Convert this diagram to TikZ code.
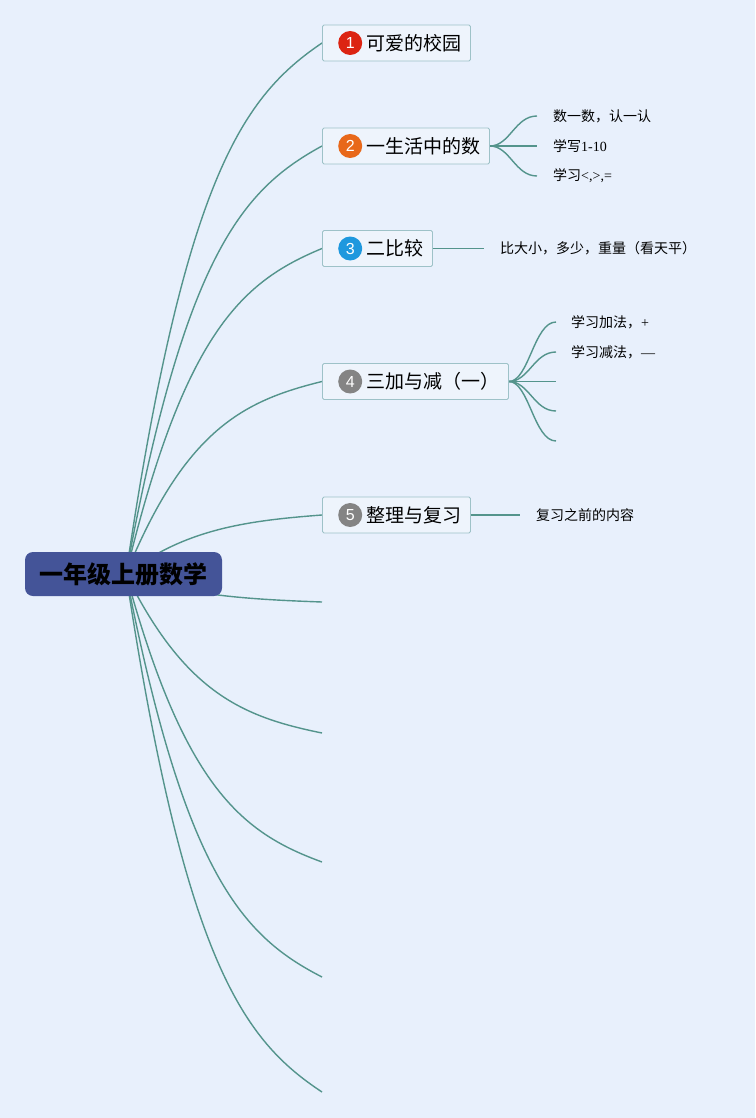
\documentclass[tikz,border=0pt]{standalone}
\usepackage{fontspec}
\setmainfont{Liberation Serif}
\newfontfamily\cjk{Noto Sans CJK SC}
\newfontfamily\numfont{Liberation Sans}
\usepackage{xcolor}
\usetikzlibrary{positioning,calc}

\pgfdeclarelayer{bg}
\pgfsetlayers{bg,main}

\definecolor{bgblue}{RGB}{232,240,252}
\definecolor{rootblue}{RGB}{68,84,152}
\definecolor{linegreen}{RGB}{84,148,140}
\definecolor{boxline}{RGB}{158,194,200}
\definecolor{boxfill}{RGB}{238,244,252}
\definecolor{badgered}{RGB}{220,36,18}
\definecolor{badgeorange}{RGB}{232,104,26}
\definecolor{badgeblue}{RGB}{30,152,222}
\definecolor{badgegray}{RGB}{132,132,132}

\tikzset{
  branch/.style={draw=linegreen, line width=1.4pt},
  rootbox/.style={fill=rootblue, rounded corners=8pt, minimum width=197pt,
    minimum height=44pt, inner sep=0pt, font=\cjk\bfseries\fontsize{24}{26}\selectfont},
  topic/.style={draw=boxline, fill=boxfill, line width=0.9pt, rounded corners=1.5pt,
    anchor=west, minimum height=36pt, inner xsep=9pt, inner ysep=0pt,
    font=\cjk\fontsize{19}{22}\selectfont},
  badge/.style={circle, fill=#1, text=white, inner sep=0pt, minimum size=24pt,
    font=\numfont\fontsize{16}{16}\selectfont},
  leaf/.style={anchor=west, inner sep=0pt, font=\cjk\fontsize{14}{16}\selectfont},
}

\begin{document}
\begin{tikzpicture}[x=1pt, y=-1pt]
% Background
\begin{pgfonlayer}{bg}
\fill[bgblue] (0,0) rectangle (755,1118);
\end{pgfonlayer}
\useasboundingbox (0,0) rectangle (755,1118);

% Central topic
\node[rootbox] (root) at (123.5,574) {一年级上册数学};
\coordinate (hub) at (126,574);

% Main topics
\node[topic] (t1) at (322,43) {\hspace*{35pt}可爱的校园};
\node[topic] (t2) at (322,146) {\hspace*{35pt}一生活中的数};
\node[topic] (t3) at (322,248.5) {\hspace*{35pt}二比较};
\node[topic] (t4) at (322,381.5) {\hspace*{35pt}三加与减（一）};
\node[topic] (t5) at (322,515) {\hspace*{35pt}整理与复习};

\node[badge=badgered, right=16pt of t1.west] (b1) {1};
\node[badge=badgeorange, right=16pt of t2.west] (b2) {2};
\node[badge=badgeblue, right=16pt of t3.west] (b3) {3};
\node[badge=badgegray, right=16pt of t4.west] (b4) {4};
\node[badge=badgegray, right=16pt of t5.west] (b5) {5};

% Subtopics
\node[leaf] (l21) at (553,116) {数一数，认一认};
\node[leaf] (l22) at (553,146) {学写{\rmfamily 1-10}};
\node[leaf] (l23) at (553,176) {学习{\rmfamily <,>,=}};
\node[leaf] (l31) at (500,248.5) {比大小，多少，重量（看天平）};
\node[leaf] (l41) at (571,322) {学习加法，{\rmfamily +}};
\node[leaf] (l42) at (571,352) {学习减法，{\rmfamily —}};
\node[leaf] (l51) at (536,515) {复习之前的内容};

% empty branch ends
\foreach \y [count=\i] in {602,733,862,977,1092}
  \coordinate (e\i) at (322,\y);
\coordinate (e43) at (556,381.5);
\coordinate (e44) at (556,411);
\coordinate (e45) at (556,441);

% Connectors (behind the boxes)
\begin{pgfonlayer}{bg}
\foreach \t in {t1.west,t2.west,t3.west,t4.west,t5.west,e1,e2,e3,e4,e5}
  \draw[branch] let \p1=(hub), \p2=(\t) in (\p1)
    .. controls ({\x1+0.3*(\x2-\x1)},{\y1+0.75*(\y2-\y1)})
    and ({\x1+0.6*(\x2-\x1)},{\y1+0.9*(\y2-\y1)}) .. (\p2);
\foreach \l in {l21,l22,l23}
  \draw[branch] (t2.east) .. controls +(20,0) and +(-22,0) .. ([xshift=-16pt]\l.west);
\draw[branch] (t3.east) -- ([xshift=-16pt]l31.west);
\foreach \l in {l41,l42}
  \draw[branch] (t4.east) .. controls +(20,0) and +(-22,0) .. ([xshift=-15pt]\l.west);
\foreach \e in {e43,e44,e45}
  \draw[branch] (t4.east) .. controls +(20,0) and +(-22,0) .. (\e);
\draw[branch] (t5.east) -- ([xshift=-16pt]l51.west);
\end{pgfonlayer}
\end{tikzpicture}
\end{document}
